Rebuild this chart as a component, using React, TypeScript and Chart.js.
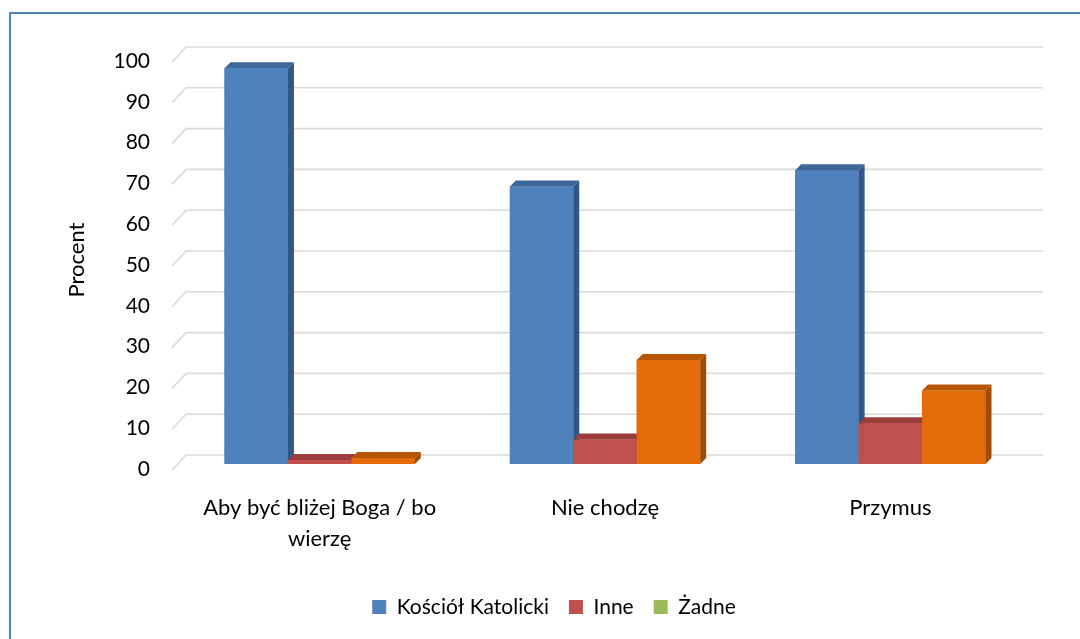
import React, { useEffect, useRef } from "react";
import { Chart, registerables } from "chart.js";

Chart.register(...registerables);

const categories: (string | string[])[] = [["Aby być bliżej Boga / bo", "wierzę"], "Nie chodzę", "Przymus"];
const seriesNames = ["Kościół Katolicki", "Inne", "Żadne"];
const kosciol = [97, 68, 72];
const inne = [1, 6, 10];
const zadne = [1.5, 25.5, 18];
const yTicks = [0, 10, 20, 30, 40, 50, 60, 70, 80, 90, 100];

const frontColors = ["#4F81BD", "#C0504D", "#E46C0A"];
const topColors = ["#3D6699", "#9B3D3A", "#B85608"];
const sideColors = ["#325784", "#8A3533", "#A04B06"];
const legendColors = ["#4F81BD", "#C0504D", "#9BBB59"];

const FONT = "Lato, 'Open Sans', sans-serif";
const FS = 21;
const FSX = 22;
const D = 6;
const WALL = 9;

const grid3d = {
  id: "grid3d",
  beforeDatasetsDraw(chart: any) {
    const { ctx, chartArea, scales } = chart;
    const y = scales.y;
    ctx.save();
    ctx.strokeStyle = "#D9D9D9";
    ctx.lineWidth = 1.6;
    for (const v of yTicks) {
      const yb = y.getPixelForValue(v) - WALL;
      ctx.beginPath();
      ctx.moveTo(chartArea.left - 5, yb + 15);
      ctx.lineTo(chartArea.left + 9, yb);
      ctx.lineTo(chartArea.right + 10, yb);
      ctx.stroke();
    }
    ctx.restore();
  },
};

const bars3d = {
  id: "bars3d",
  afterDatasetsDraw(chart: any) {
    const { ctx } = chart;
    const n = chart.data.labels.length;
    ctx.save();
    for (let i = 0; i < n; i++) {
      for (let d = 0; d < chart.data.datasets.length; d++) {
        const el = chart.getDatasetMeta(d).data[i];
        const { x, y, base, width } = el.getProps(["x", "y", "base", "width"], true);
        const l = x - width / 2;
        const r = x + width / 2;
        ctx.fillStyle = frontColors[d];
        ctx.fillRect(l, y, width, base - y);
        ctx.fillStyle = topColors[d];
        ctx.beginPath();
        ctx.moveTo(l, y);
        ctx.lineTo(l + D, y - D);
        ctx.lineTo(r + D, y - D);
        ctx.lineTo(r, y);
        ctx.closePath();
        ctx.fill();
        ctx.fillStyle = sideColors[d];
        ctx.beginPath();
        ctx.moveTo(r, y);
        ctx.lineTo(r + D, y - D);
        ctx.lineTo(r + D, base - D);
        ctx.lineTo(r, base);
        ctx.closePath();
        ctx.fill();
      }
    }
    ctx.restore();
  },
};

export default function App() {
  const ref = useRef<HTMLCanvasElement>(null);
  useEffect(() => {
    const chart = new Chart(ref.current as HTMLCanvasElement, {
      type: "bar",
      data: {
        labels: categories,
        datasets: [
          { label: seriesNames[0], data: kosciol, backgroundColor: frontColors[0] },
          { label: seriesNames[1], data: inne, backgroundColor: frontColors[1] },
          { label: seriesNames[2], data: zadne, backgroundColor: frontColors[2] },
        ],
      },
      options: {
        animation: false,
        responsive: false,
        devicePixelRatio: 1,
        events: [],
        datasets: { bar: { categoryPercentage: 0.667, barPercentage: 1 } },
        layout: { padding: { top: 56, left: 28, right: 0, bottom: 11.5 } },
        plugins: {
          tooltip: { enabled: false },
          legend: {
            position: "bottom",
            labels: {
              color: "#000",
              boxWidth: 14,
              boxHeight: 14,
              padding: 20,
              font: { family: FONT, size: FS },
              generateLabels: () =>
                seriesNames.map((t, i) => ({
                  text: t,
                  fillStyle: legendColors[i],
                  strokeStyle: legendColors[i],
                  lineWidth: 0,
                  hidden: false,
                  datasetIndex: i,
                  fontColor: "#000",
                })),
            },
          },
        },
        scales: {
          x: {
            grid: { display: false, drawTicks: false },
            border: { display: false },
            ticks: {
              color: "#000",
              padding: 28,
              maxRotation: 0,
              autoSkip: false,
              font: { family: FONT, size: FSX, lineHeight: 1.42 },
            },
            afterFit: (s: any) => {
              s.height = 112.5;
            },
          },
          y: {
            min: 0,
            max: 100,
            grid: { display: false, drawTicks: false },
            border: { display: false },
            ticks: {
              stepSize: 10,
              color: "#000",
              padding: 27,
              labelOffset: 5,
              font: { family: FONT, size: FS },
            },
            title: {
              display: true,
              text: "Procent",
              color: "#000",
              font: { family: FONT, size: FSX },
              padding: { top: 36, bottom: 0 },
            },
            afterFit: (s: any) => {
              s.width = 149;
            },
          },
          y2: {
            position: "right",
            display: true,
            grid: { display: false, drawTicks: false },
            border: { display: false },
            ticks: { display: false },
            afterFit: (s: any) => {
              s.width = 47;
            },
          },
        },
      },
      plugins: [grid3d, bars3d],
    } as any);
    return () => chart.destroy();
  }, []);
  return (
    <div style={{ position: "fixed", left: 0, top: 0, width: 1080, height: 639, overflow: "hidden", background: "#fff" }}>
      <div
        style={{
          position: "absolute",
          left: 9,
          top: 12,
          width: 1200,
          height: 800,
          border: "2px solid #4F81BD",
          boxSizing: "border-box",
        }}
      />
      <canvas ref={ref} width={1080} height={639} style={{ position: "absolute", left: 0, top: 0, width: 1080, height: 639 }} />
    </div>
  );
}
